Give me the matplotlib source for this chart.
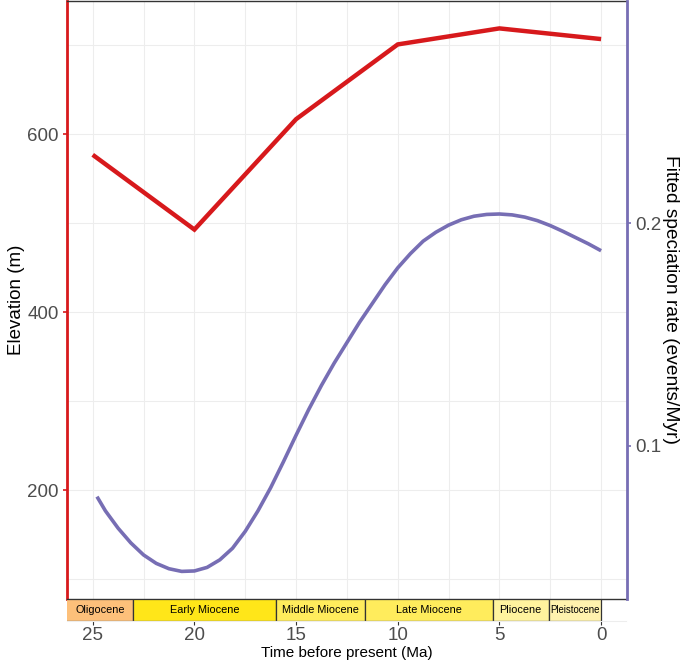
import matplotlib
matplotlib.use("Agg")
import matplotlib.pyplot as plt
from matplotlib.ticker import FixedLocator

plt.rcParams['font.family'] = ['Liberation Sans', 'DejaVu Sans']

# ---- data ----
elev_time = [25, 20, 15, 10, 5, 0]
elevation = [577, 493, 617, 701, 719, 707]

rate_time = [24.79, 24.375, 23.75, 23.125, 22.5, 21.875, 21.25, 20.625, 20.0, 19.375,
             18.75, 18.125, 17.5, 16.875, 16.25, 15.625, 15.0, 14.375, 13.75, 13.125,
             12.5, 11.875, 11.25, 10.625, 10.0, 9.375, 8.75, 8.125, 7.5, 6.875,
             6.25, 5.625, 5.0, 4.375, 3.75, 3.125, 2.5, 1.875, 1.25, 0.625, 0.0]
rate = [0.0772, 0.0708, 0.0630, 0.0564, 0.0510, 0.0472, 0.0448, 0.0436, 0.0438, 0.0454,
        0.0488, 0.0540, 0.0616, 0.0708, 0.0812, 0.0928, 0.1048, 0.1164, 0.1272, 0.1372,
        0.1464, 0.1556, 0.1640, 0.1724, 0.1800, 0.1864, 0.1920, 0.1960, 0.1992, 0.2016,
        0.2032, 0.2040, 0.2042, 0.2038, 0.2028, 0.2012, 0.1990, 0.1964, 0.1936, 0.1908,
        0.1877]

epoch_names = ["Oligocene", "Early Miocene", "Middle Miocene", "Late Miocene", "Pliocene", "Pleistocene"]
epoch_start = [33.9, 23.03, 15.97, 11.63, 5.333, 2.58]
epoch_end = [23.03, 15.97, 11.63, 5.333, 2.58, 0.0]
epoch_colors = ["#FDC07A", "#FFE619", "#FFEC5C", "#FFEC5C", "#FFF39E", "#FFF2AE"]
epoch_fontsize = [7.8, 7.8, 7.8, 7.8, 7.8, 6.9]

x_ticks = [25, 20, 15, 10, 5, 0]
x_minor = [22.5, 17.5, 12.5, 7.5, 2.5]
y_ticks = [200, 400, 600]
y_minor = [100, 300, 500, 700]
rate_ticks = [0.1, 0.2]
rate_factor = 2500.0

RED = "#D7191C"
PURPLE = "#776EB4"
GRID = "#EDEDED"
TXT = "#4D4D4D"

W, H = 687, 662
fig = plt.figure(figsize=(W / 100, H / 100), dpi=100)

left_px, right_px, top_px, bot_px = 67.3, 626.5, 0.8, 599
ax = fig.add_axes([left_px / W, 1 - bot_px / H, (right_px - left_px) / W, (bot_px - top_px) / H])
xlim = (26.25, -1.25)
ylim = (78, 750)
ax.set_xlim(*xlim)
ax.set_ylim(*ylim)

for v in x_ticks + x_minor:
    ax.axvline(v, color=GRID, lw=0.8, zorder=0)
for v in y_ticks + y_minor:
    ax.axhline(v, color=GRID, lw=0.8, zorder=0)

ax.plot(elev_time, elevation, color=RED, lw=3.2, solid_capstyle='butt',
        solid_joinstyle='miter', zorder=3)

ax.set_xticks([])
ax.yaxis.set_major_locator(FixedLocator(y_ticks))
ax.tick_params(axis='y', colors=RED, length=3, width=1.2, labelcolor=TXT, labelsize=13.5, pad=3)
for s in ['top', 'bottom']:
    ax.spines[s].set_color('#333333')
    ax.spines[s].set_linewidth(1.0)
ax.spines['left'].set_color(RED)
ax.spines['left'].set_linewidth(2.0)
ax.spines['right'].set_visible(False)
ax.set_ylabel("Elevation (m)", fontsize=13.5, color='black', labelpad=1.5)

ax2 = ax.twinx()
ax2.set_ylim(ylim[0] / rate_factor, ylim[1] / rate_factor)
ax2.plot(rate_time, rate, color=PURPLE, lw=2.6, solid_capstyle='butt',
         solid_joinstyle='round', zorder=3)
ax2.yaxis.set_major_locator(FixedLocator(rate_ticks))
ax2.set_yticklabels([f"{t:.1f}" for t in rate_ticks])
ax2.tick_params(axis='y', colors=PURPLE, length=3, width=1.2, labelcolor=TXT, labelsize=13.5, pad=3)
for s in ['top', 'bottom', 'left']:
    ax2.spines[s].set_visible(False)
ax2.spines['right'].set_color(PURPLE)
ax2.spines['right'].set_linewidth(2.0)
ax2.set_ylabel("Fitted speciation rate (events/Myr)", fontsize=13.8, color='black',
               rotation=-90, va='bottom', labelpad=1)

# ---- geologic time scale bar ----
bar_top, bar_bot = 599, 620.5
bax = fig.add_axes([left_px / W, 1 - bar_bot / H, (right_px - left_px) / W, (bar_bot - bar_top) / H])
bax.set_xlim(*xlim)
bax.set_ylim(0, 1)
bax.barh(0.5, [s - e for s, e in zip(epoch_start, epoch_end)], left=epoch_end, height=1.0,
         color=epoch_colors, edgecolor='#333333', linewidth=0.9, zorder=2)
for name, s, e, fs in zip(epoch_names, epoch_start, epoch_end, epoch_fontsize):
    vs = min(s, xlim[0])
    ve = max(e, xlim[1])
    bax.text((vs + ve) / 2, 0.5, name, ha='center', va='center', fontsize=fs, color='black',
             zorder=3, clip_on=True)
bax.set_yticks([])
bax.set_xticks(x_ticks)
bax.set_xticklabels([str(t) for t in x_ticks])
bax.tick_params(axis='x', colors='#333333', length=3, width=0.8, labelcolor=TXT, labelsize=13.5, pad=2)
for s in ['top', 'left', 'right']:
    bax.spines[s].set_visible(False)
bax.spines['bottom'].set_color(GRID)
bax.spines['bottom'].set_linewidth(0.8)
bax.patch.set_alpha(0)
bax.set_xlabel("Time before present (Ma)", fontsize=11, color='black', labelpad=1)

fig.savefig("out.png", dpi=100)
